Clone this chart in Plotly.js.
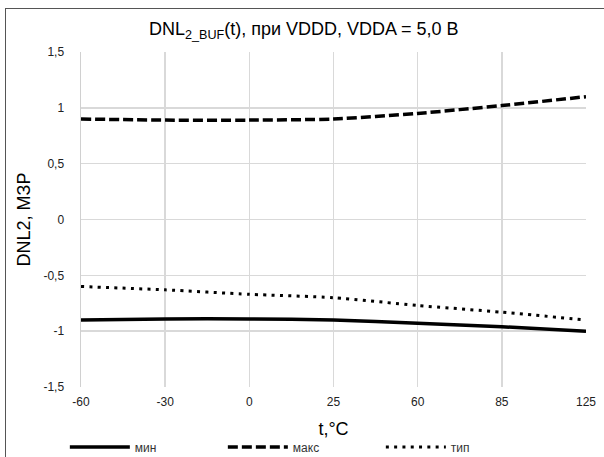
<!DOCTYPE html>
<html>
<head>
<meta charset="utf-8">
<script src="https://cdn.plot.ly/plotly-3.0.1.min.js"></script>
<style>
html,body{margin:0;padding:0;background:#fff;}
#wrap{position:relative;width:604px;height:457px;overflow:hidden;}
#chart{width:604px;height:457px;}
#frame{position:absolute;left:5px;top:8px;width:640px;height:480px;border:1.5px solid #555;pointer-events:none;}
</style>
</head>
<body>
<div id="wrap"><div id="chart"></div><div id="frame"></div></div>
<script>
const categories = ['-60','-30','0','25','60','85','125'];
const minVals  = [-0.90, -0.89, -0.89, -0.90, -0.93, -0.96, -1.00];
const maxVals  = [0.90, 0.89, 0.89, 0.90, 0.95, 1.02, 1.10];
const typVals  = [-0.60, -0.63, -0.67, -0.70, -0.77, -0.83, -0.90];
const seriesNames = ['мин', 'макс', 'тип'];
const yTicks = [-1.5, -1, -0.5, 0, 0.5, 1, 1.5];
const yTickText = ['-1,5', '-1', '-0,5', '0', '0,5', '1', '1,5'];

const font = "Liberation Sans, Arial, sans-serif";
const traces = [
  {x: categories, y: minVals, name: seriesNames[0], mode: 'lines',
   line: {color: '#000', width: 3.5, shape: 'spline', smoothing: 0.6}},
  {x: categories, y: maxVals, name: seriesNames[1], mode: 'lines',
   line: {color: '#000', width: 3.5, dash: '10px,4px', shape: 'spline', smoothing: 0.6}},
  {x: categories, y: typVals, name: seriesNames[2], mode: 'lines',
   line: {color: '#000', width: 3, dash: '3px,5.3px', shape: 'spline', smoothing: 0.6}}
];

const layout = {
  width: 604, height: 457,
  margin: {l: 81, r: 18, t: 52, b: 70, autoexpand: false},
  paper_bgcolor: '#fff', plot_bgcolor: '#fff',
  font: {family: font, color: '#333'},
  title: {text: 'DNL<sub>2_BUF</sub>(t), при VDDD, VDDA = 5,0 В', x: 0.503, xanchor: 'center', y: 0.937, yanchor: 'middle',
          font: {family: font, size: 18, color: '#000'}},
  xaxis: {type: 'category', range: [0, 6], showgrid: true, gridcolor: '#d9d9d9', gridwidth: 1.5, automargin: false,
          zeroline: false, showline: false, ticks: '', tickfont: {family: font, size: 12, color: '#222'},
          ticklabelstandoff: 6,
          title: {text: 't,°C', font: {family: font, size: 18, color: '#000'}, standoff: 14}},
  yaxis: {range: [-1.5, 1.5], tickvals: yTicks, ticktext: yTickText, showgrid: true, gridcolor: '#d9d9d9', gridwidth: 1.5,
          zeroline: false, showline: true, linecolor: '#d0d0d0', linewidth: 1.5, ticks: '', automargin: false,
          tickfont: {family: font, size: 12, color: '#222'}, ticklabelstandoff: 13,
          title: {text: 'DNL2, МЗР', font: {family: font, size: 18, color: '#000'}, standoff: 8}},
  showlegend: true,
  legend: {orientation: 'h', x: -0.032, xanchor: 'left', y: -0.179, yanchor: 'middle',
           font: {family: font, size: 12, color: '#333'}, itemwidth: 60, entrywidth: 83, traceorder: 'normal'}
};
Plotly.newPlot('chart', traces, layout, {displayModeBar: false, staticPlot: true});
</script>
</body>
</html>
